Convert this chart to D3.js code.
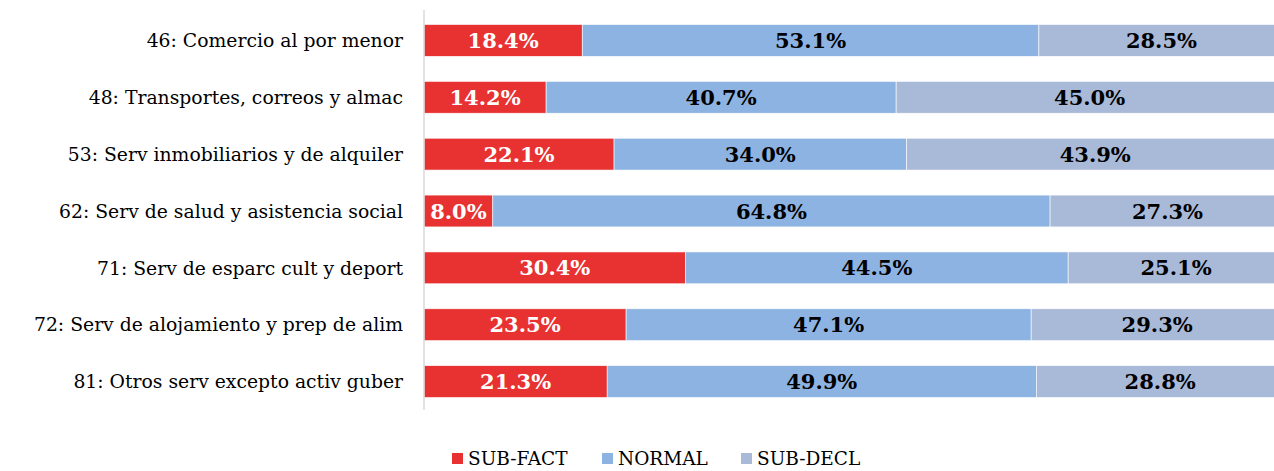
<!DOCTYPE html>
<html>
<head>
<meta charset="utf-8">
<script src="https://cdn.jsdelivr.net/npm/d3@7"></script>
<style>
  body { margin: 0; background: #fff; }
  text { font-family: "DejaVu Serif", serif; }
</style>
</head>
<body>
<script>
var categories = [
  "46: Comercio al por menor",
  "48: Transportes, correos y almac",
  "53: Serv inmobiliarios y de alquiler",
  "62: Serv de salud y asistencia social",
  "71: Serv de esparc cult y deport",
  "72: Serv de alojamiento y prep de alim",
  "81: Otros serv excepto activ guber"
];
var seriesNames = ["SUB-FACT", "NORMAL", "SUB-DECL"];
var subFact = [18.4, 14.2, 22.1, 8.0, 30.4, 23.5, 21.3];
var normal  = [53.1, 40.7, 34.0, 64.8, 44.5, 47.1, 49.9];
var subDecl = [28.5, 45.0, 43.9, 27.3, 25.1, 29.3, 28.8];
var colors = ["#e83131", "#8db3e2", "#a9b9d8"];

var width = 1274, height = 471;
var margin = {top: 12, left: 424, right: -10, bottom: 61};

var rows = categories.map(function(c, i) {
  return {cat: c, "SUB-FACT": subFact[i], "NORMAL": normal[i], "SUB-DECL": subDecl[i]};
});

var svg = d3.select("body").append("svg")
    .attr("width", width)
    .attr("height", height);

var x = d3.scaleLinear()
    .domain([0, 100])
    .range([margin.left, width - margin.right]);

var y = d3.scaleBand()
    .domain(categories)
    .range([margin.top, height - margin.bottom])
    .paddingInner(0.44)
    .paddingOuter(0.22);

var stack = d3.stack().keys(seriesNames)(rows);

var layer = svg.selectAll("g.layer")
    .data(stack)
  .enter().append("g")
    .attr("class", "layer")
    .attr("fill", function(d, i) { return colors[i]; });

layer.selectAll("rect")
    .data(function(d) { return d; })
  .enter().append("rect")
    .attr("x", function(d) { return x(d[0]); })
    .attr("y", function(d) { return y(d.data.cat); })
    .attr("width", function(d) { return x(d[1]) - x(d[0]); })
    .attr("height", y.bandwidth())
    .attr("stroke", "#fff")
    .attr("stroke-width", 0.6);

layer.selectAll("text")
    .data(function(d, i) { return d.map(function(e) { e.s = i; return e; }); })
  .enter().append("text")
    .attr("x", function(d) { return (x(d[0]) + x(d[1])) / 2; })
    .attr("y", function(d) { return y(d.data.cat) + y.bandwidth() / 2; })
    .attr("dy", "0.36em")
    .attr("text-anchor", "middle")
    .style("font-size", "21px")
    .style("font-weight", "bold")
    .attr("fill", function(d) { return d.s === 0 ? "#fff" : "#000"; })
    .text(function(d) { return (d[1] - d[0]).toFixed(1) + "%"; });

// axis line
svg.append("line")
    .attr("x1", x(0)).attr("x2", x(0))
    .attr("y1", 10).attr("y2", 410)
    .attr("stroke", "#d9d9d9")
    .attr("stroke-width", 1.5);

svg.selectAll("text.cat")
    .data(categories)
  .enter().append("text")
    .attr("class", "cat")
    .attr("x", 403)
    .attr("y", function(d) { return y(d) + y.bandwidth() / 2; })
    .attr("dy", "0.36em")
    .attr("text-anchor", "end")
    .style("font-size", "18.8px")
    .attr("fill", "#000")
    .text(function(d) { return d; });

// legend
var legX = [452, 602, 741];
var legend = svg.selectAll("g.leg")
    .data(seriesNames)
  .enter().append("g")
    .attr("class", "leg")
    .attr("transform", function(d, i) { return "translate(" + legX[i] + ",458)"; });

legend.append("rect")
    .attr("x", 0).attr("y", -5)
    .attr("width", 11).attr("height", 11)
    .attr("fill", function(d, i) { return colors[i]; });

legend.append("text")
    .attr("x", 16)
    .attr("dy", "0.36em")
    .style("font-size", "18.5px")
    .attr("fill", "#000")
    .text(function(d) { return d; });
</script>
</body>
</html>
